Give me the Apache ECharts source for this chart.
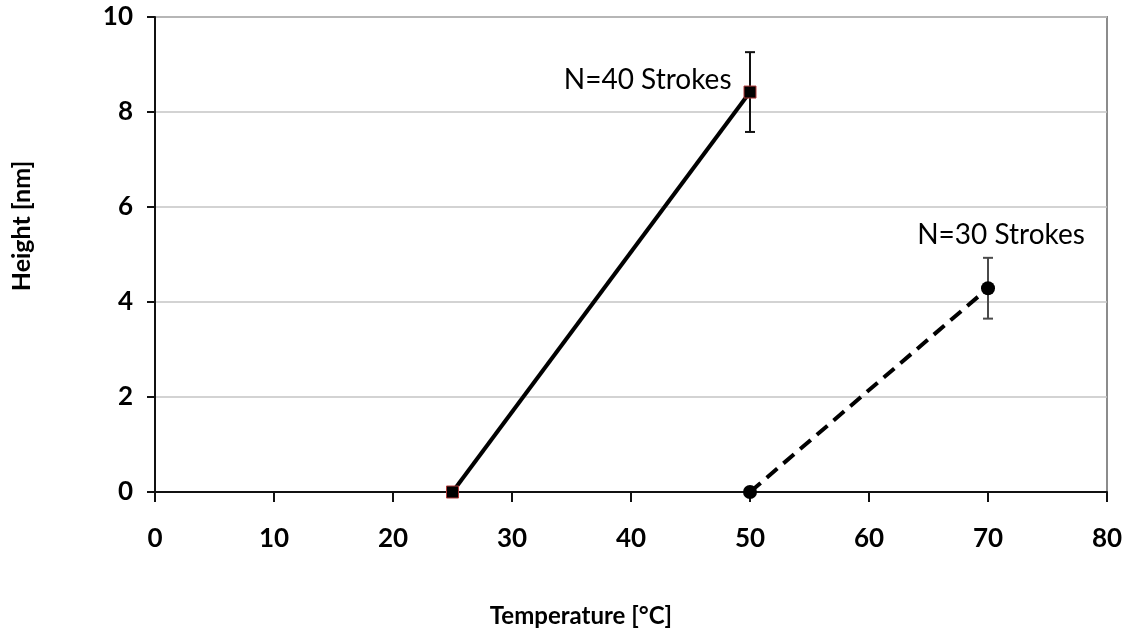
<!DOCTYPE html>
<html>
<head>
<meta charset="utf-8">
<script src="https://cdn.jsdelivr.net/npm/echarts@6/dist/echarts.min.js"></script>
<style>
  html, body { margin: 0; padding: 0; background: #ffffff; }
  #chart { width: 1127px; height: 631px; }
</style>
</head>
<body>
<div id="chart"></div>
<script>
// Height vs. temperature for two stroke counts
const tempsN40 = [25, 50];
const heightN40 = [0, 8.42];
const errN40 = [null, 0.84];

const tempsN30 = [50, 70];
const heightN30 = [0, 4.29];
const errN30 = [null, 0.64];

const xTicks = [0, 10, 20, 30, 40, 50, 60, 70, 80];
const yTicks = [0, 2, 4, 6, 8, 10];

const labelN40 = 'N=40 Strokes';
const labelN30 = 'N=30 Strokes';
const xTitle = 'Temperature [°C]';
const yTitle = 'Height [nm]';

const FONT = 'Lato, "Open Sans", sans-serif';

function pairs(xs, ys) { return xs.map((x, i) => [x, ys[i]]); }

function errRows(xs, ys, es) {
  const rows = [];
  xs.forEach((x, i) => { if (es[i] != null) rows.push([x, ys[i] - es[i], ys[i] + es[i]]); });
  return rows;
}

function errorBarRenderer(color) {
  return function (params, api) {
    const x = api.value(0);
    const lo = api.coord([x, api.value(1)]);
    const hi = api.coord([x, api.value(2)]);
    const cap = 5;
    const style = { stroke: color, lineWidth: 2 };
    return {
      type: 'group',
      children: [
        { type: 'line', shape: { x1: hi[0], y1: hi[1], x2: lo[0], y2: lo[1] }, style },
        { type: 'line', shape: { x1: hi[0] - cap, y1: hi[1], x2: hi[0] + cap, y2: hi[1] }, style },
        { type: 'line', shape: { x1: lo[0] - cap, y1: lo[1], x2: lo[0] + cap, y2: lo[1] }, style }
      ]
    };
  };
}

const chart = echarts.init(document.getElementById('chart'), null, { renderer: 'canvas' });

const dataN40 = pairs(tempsN40, heightN40).map((p, i) =>
  i === tempsN40.length - 1
    ? { value: p, label: { show: true, formatter: labelN40, position: 'left', distance: 12, offset: [0, -12] } }
    : p);
const dataN30 = pairs(tempsN30, heightN30).map((p, i) =>
  i === tempsN30.length - 1
    ? { value: p, label: { show: true, formatter: labelN30, position: 'inside', offset: [13, -53] } }
    : p);

chart.setOption({
  backgroundColor: '#ffffff',
  animation: false,
  grid: {
    left: 155, right: 20, top: 17, bottom: 139,
    show: true, borderColor: '#8c8c8c', borderWidth: 2, backgroundColor: 'transparent'
  },
  xAxis: {
    type: 'value',
    min: xTicks[0], max: xTicks[xTicks.length - 1], interval: 10,
    axisLine: { show: true, onZero: false, lineStyle: { color: '#111111', width: 2 } },
    axisTick: { show: true, inside: false, length: 10, lineStyle: { color: '#111111', width: 2 } },
    axisLabel: { margin: 34, color: '#000000', fontFamily: FONT, fontWeight: 'bold', fontSize: 26 },
    splitLine: { show: false }
  },
  yAxis: {
    type: 'value',
    min: yTicks[0], max: yTicks[yTicks.length - 1], interval: 2,
    axisLine: { show: true, onZero: false, lineStyle: { color: '#111111', width: 2 } },
    axisTick: { show: true, inside: false, length: 8, lineStyle: { color: '#111111', width: 2 } },
    axisLabel: { margin: 22, color: '#000000', fontFamily: FONT, fontWeight: 'bold', fontSize: 26 },
    splitLine: { show: true, lineStyle: { color: '#c4c4c4', width: 1.5 } }
  },
  graphic: [
    {
      type: 'text', x: 22, y: 226, rotation: Math.PI / 2,
      style: { text: yTitle, fill: '#000000', font: 'bold 25px ' + FONT, align: 'center', verticalAlign: 'middle' }
    },
    {
      type: 'text', x: 581, y: 616,
      style: { text: xTitle, fill: '#000000', font: 'bold 24px ' + FONT, align: 'center', verticalAlign: 'middle' }
    }
  ],
  series: [
    {
      type: 'custom', name: 'errN40', z: 1,
      renderItem: errorBarRenderer('#111111'),
      data: errRows(tempsN40, heightN40, errN40),
      encode: { x: 0, y: [1, 2] }
    },
    {
      type: 'custom', name: 'errN30', z: 1,
      renderItem: errorBarRenderer('#4a4a4a'),
      data: errRows(tempsN30, heightN30, errN30),
      encode: { x: 0, y: [1, 2] }
    },
    {
      type: 'line', name: labelN40, z: 3,
      data: dataN40,
      symbol: 'rect', symbolSize: 12,
      itemStyle: { color: '#000000', borderColor: '#b03a3a', borderWidth: 1 },
      lineStyle: { color: '#000000', width: 4 },
      label: { color: '#000000', fontFamily: FONT, fontSize: 28 }
    },
    {
      type: 'line', name: labelN30, z: 3,
      data: dataN30,
      symbol: 'circle', symbolSize: 14,
      itemStyle: { color: '#000000' },
      lineStyle: { color: '#000000', width: 4, type: [14, 8] },
      label: { color: '#000000', fontFamily: FONT, fontSize: 28 }
    }
  ]
});
</script>
</body>
</html>
